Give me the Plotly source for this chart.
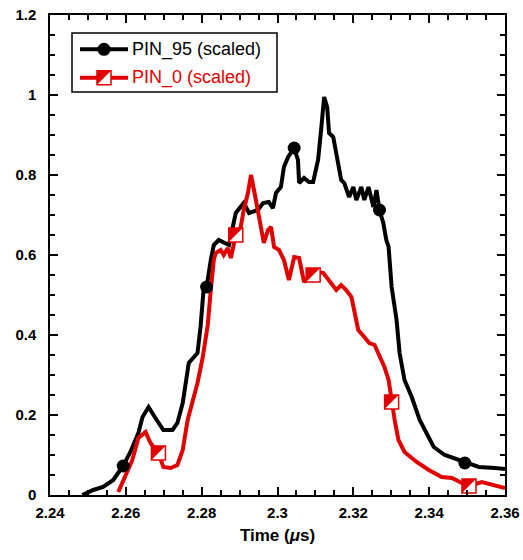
import plotly.graph_objects as go

# ---------------- data ----------------
t_pin95 = [2.2485, 2.2514, 2.2540, 2.2567, 2.2585, 2.2593, 2.2612, 2.2633, 2.2644, 2.2660,
           2.2678, 2.2699, 2.2723, 2.2736, 2.2750, 2.2766, 2.2789, 2.2797, 2.2805, 2.2813,
           2.2824, 2.2832, 2.2845, 2.2856, 2.2872, 2.2890, 2.2911, 2.2925, 2.2948, 2.2962,
           2.2977, 2.2988, 2.2996, 2.3009, 2.3017, 2.3028, 2.3044, 2.3054, 2.3057, 2.3070,
           2.3083, 2.3094, 2.3107, 2.3115, 2.3123, 2.3131, 2.3136, 2.3147, 2.3155, 2.3168,
           2.3176, 2.3189, 2.3200, 2.3208, 2.3221, 2.3229, 2.3240, 2.3253, 2.3261, 2.3269,
           2.3279, 2.3287, 2.3293, 2.3301, 2.3314, 2.3322, 2.3335, 2.3354, 2.3375, 2.3399,
           2.3412, 2.3441, 2.3478, 2.3494, 2.3531, 2.3574, 2.3600]
v_pin95 = [0.000, 0.0125, 0.020, 0.0375, 0.0625, 0.0725, 0.1075, 0.155, 0.195, 0.220,
           0.1925, 0.1625, 0.1625, 0.180, 0.230, 0.330, 0.355, 0.420, 0.5125, 0.520,
           0.5875, 0.625, 0.6375, 0.6325, 0.625, 0.705, 0.730, 0.705, 0.7125, 0.730,
           0.7325, 0.7175, 0.755, 0.770, 0.820, 0.845, 0.8675, 0.8375, 0.780, 0.7925,
           0.7825, 0.7825, 0.8375, 0.9125, 0.995, 0.970, 0.905, 0.895, 0.855, 0.7875,
           0.780, 0.745, 0.770, 0.7375, 0.770, 0.7375, 0.770, 0.720, 0.7625, 0.7125,
           0.680, 0.6375, 0.620, 0.520, 0.4375, 0.355, 0.2875, 0.245, 0.1875, 0.145,
           0.120, 0.100, 0.0875, 0.080, 0.070, 0.0675, 0.065]
marker_idx_pin95 = [5, 19, 36, 59, 73]

t_pin0 = [2.2580, 2.2593, 2.2617, 2.2633, 2.2652, 2.2665, 2.2686, 2.2699, 2.2718, 2.2736,
          2.2750, 2.2763, 2.2776, 2.2789, 2.2803, 2.2816, 2.2824, 2.2832, 2.2837, 2.2850,
          2.2858, 2.2869, 2.2877, 2.2890, 2.2903, 2.2911, 2.2922, 2.2930, 2.2938, 2.2948,
          2.2956, 2.2964, 2.2975, 2.2983, 2.2991, 2.3004, 2.3017, 2.3030, 2.3044, 2.3057,
          2.3070, 2.3083, 2.3094, 2.3107, 2.3121, 2.3134, 2.3147, 2.3155, 2.3168, 2.3181,
          2.3195, 2.3203, 2.3213, 2.3229, 2.3242, 2.3256, 2.3269, 2.3282, 2.3293, 2.3301,
          2.3309, 2.3319, 2.3335, 2.3367, 2.3399, 2.3433, 2.3460, 2.3486, 2.3505, 2.3539,
          2.3574, 2.3600]
v_pin0 = [0.0075, 0.0375, 0.0875, 0.1425, 0.1575, 0.130, 0.105, 0.070, 0.0675, 0.075,
          0.1125, 0.1875, 0.2375, 0.280, 0.345, 0.425, 0.5125, 0.5875, 0.605, 0.6125,
          0.600, 0.6175, 0.5925, 0.650, 0.670, 0.7125, 0.755, 0.800, 0.7625, 0.7125,
          0.670, 0.630, 0.6625, 0.670, 0.620, 0.6125, 0.5875, 0.5375, 0.595, 0.5925,
          0.5325, 0.545, 0.550, 0.5575, 0.555, 0.5375, 0.520, 0.5125, 0.525, 0.5125,
          0.495, 0.455, 0.4125, 0.395, 0.380, 0.375, 0.345, 0.320, 0.2875, 0.2325,
          0.1875, 0.1375, 0.1075, 0.0825, 0.0625, 0.045, 0.0425, 0.030, 0.0225, 0.0325,
          0.025, 0.0175]
marker_idx_pin0 = [6, 23, 42, 59, 68]

series_names = ["PIN_95 (scaled)", "PIN_0 (scaled)"]
x_ticks = [2.24, 2.26, 2.28, 2.30, 2.32, 2.34, 2.36]
x_ticktext = ["2.24", "2.26", "2.28", "2.3", "2.32", "2.34", "2.36"]
y_ticks = [0, 0.2, 0.4, 0.6, 0.8, 1.0, 1.2]
y_ticktext = ["0", "0.2", "0.4", "0.6", "0.8", "1", "1.2"]
x_range = [2.24, 2.36]
y_range = [0, 1.2]

# ---------------- style ----------------
W, H = 523, 560
ML, MR, MT, MB = 50, 18, 15, 65
PW, PH = W - ML - MR, H - MT - MB
BLACK = "#000000"
RED = "#e00000"
FONT = "Liberation Sans"
LW = 4
SQ = 14                      # square marker size (px)
TRI = SQ / 0.9               # triangle-nw size so its legs equal square side
OFF = SQ / 6.0               # pixel shift of triangle so it fills upper-left half

px_per_x = PW / (x_range[1] - x_range[0])
px_per_y = PH / (y_range[1] - y_range[0])

fig = go.Figure()

# lines
fig.add_trace(go.Scatter(x=t_pin95, y=v_pin95, mode="lines",
                         line=dict(color=BLACK, width=LW), showlegend=False,
                         hoverinfo="skip"))
fig.add_trace(go.Scatter(x=t_pin0, y=v_pin0, mode="lines",
                         line=dict(color=RED, width=LW), showlegend=False,
                         hoverinfo="skip"))

# markers PIN_95
mx95 = [t_pin95[i] for i in marker_idx_pin95]
my95 = [v_pin95[i] for i in marker_idx_pin95]
fig.add_trace(go.Scatter(x=mx95, y=my95, mode="markers", showlegend=False,
                         marker=dict(symbol="circle", size=13, color=BLACK,
                                     line=dict(width=0))))

# markers PIN_0 : white square with red border, upper-left half red
mx0 = [t_pin0[i] for i in marker_idx_pin0]
my0 = [v_pin0[i] for i in marker_idx_pin0]
fig.add_trace(go.Scatter(x=mx0, y=my0, mode="markers", showlegend=False,
                         marker=dict(symbol="square", size=SQ, color="white",
                                     line=dict(color=RED, width=1.5))))
fig.add_trace(go.Scatter(x=[v - OFF / px_per_x for v in mx0],
                         y=[v + OFF / px_per_y for v in my0],
                         mode="markers", showlegend=False,
                         marker=dict(symbol="triangle-nw", size=TRI, color=RED,
                                     line=dict(width=0))))

# ---------------- legend (drawn) ----------------
lg_x0, lg_x1 = 22 / PW, 227 / PW
lg_y0, lg_y1 = (PH - 77) / PH, (PH - 18) / PH
row_y = [(PH - 34.3) / PH, (PH - 62.7) / PH]
line_x0, line_x1 = 30 / PW, 78 / PW
mark_x = 54 / PW
text_x = 80 / PW

shapes = [dict(type="rect", xref="paper", yref="paper", x0=lg_x0, x1=lg_x1,
               y0=lg_y0, y1=lg_y1, line=dict(color=BLACK, width=1.5),
               fillcolor="rgba(0,0,0,0)", layer="below")]
for ry, col in zip(row_y, [BLACK, RED]):
    shapes.append(dict(type="line", xref="paper", yref="paper", x0=line_x0, x1=line_x1,
                       y0=ry, y1=ry, line=dict(color=col, width=LW), layer="below"))

annotations = []
for ry, col, name in zip(row_y, [BLACK, RED], series_names):
    annotations.append(dict(xref="paper", yref="paper", x=text_x, y=ry, text=name,
                            showarrow=False, xanchor="left", yanchor="middle",
                            font=dict(family=FONT, size=18, color=col)))

fig.add_trace(go.Scatter(x=[mark_x], y=[row_y[0]], xaxis="x2", yaxis="y2",
                         mode="markers", showlegend=False, hoverinfo="skip",
                         marker=dict(symbol="circle", size=13, color=BLACK)))
fig.add_trace(go.Scatter(x=[mark_x], y=[row_y[1]], xaxis="x2", yaxis="y2",
                         mode="markers", showlegend=False, hoverinfo="skip",
                         marker=dict(symbol="square", size=SQ, color="white",
                                     line=dict(color=RED, width=1.5))))
fig.add_trace(go.Scatter(x=[mark_x - OFF / PW], y=[row_y[1] + OFF / PH],
                         xaxis="x2", yaxis="y2", mode="markers", showlegend=False,
                         hoverinfo="skip",
                         marker=dict(symbol="triangle-nw", size=TRI, color=RED,
                                     line=dict(width=0))))

tickfont = dict(family=FONT, size=15, color=BLACK, weight="bold")

fig.update_layout(
    width=W, height=H,
    margin=dict(l=ML, r=MR, t=MT, b=MB, pad=0),
    paper_bgcolor="white", plot_bgcolor="white",
    showlegend=False,
    shapes=shapes, annotations=annotations,
    xaxis=dict(range=x_range, tickmode="array", tickvals=x_ticks, ticktext=x_ticktext,
               ticks="inside", ticklen=8, tickwidth=1.5, tickcolor=BLACK,
               showline=True, linecolor=BLACK, linewidth=1.5, mirror="allticks",
               showgrid=False, zeroline=False, tickfont=tickfont,
               ticklabelstandoff=3,
               minor=dict(ticks="inside", ticklen=5, tickwidth=1.5, tickcolor=BLACK,
                          dtick=0.005, tick0=2.24, showgrid=False),
               title=dict(text="Time (<i>μ</i>s)", standoff=9,
                          font=dict(family=FONT, size=17, color=BLACK, weight="bold")),
               automargin=False),
    yaxis=dict(range=y_range, tickmode="array", tickvals=y_ticks, ticktext=y_ticktext,
               ticks="inside", ticklen=8, tickwidth=1.5, tickcolor=BLACK,
               showline=True, linecolor=BLACK, linewidth=1.5, mirror="allticks",
               showgrid=False, zeroline=False, tickfont=tickfont,
               ticklabelstandoff=9,
               minor=dict(ticks="inside", ticklen=5, tickwidth=1.5, tickcolor=BLACK,
                          dtick=0.05, tick0=0, showgrid=False),
               automargin=False),
    xaxis2=dict(overlaying="x", range=[0, 1], visible=False, anchor="y2", fixedrange=True),
    yaxis2=dict(overlaying="y", range=[0, 1], visible=False, anchor="x2", fixedrange=True),
)

fig.write_html("out.html")
